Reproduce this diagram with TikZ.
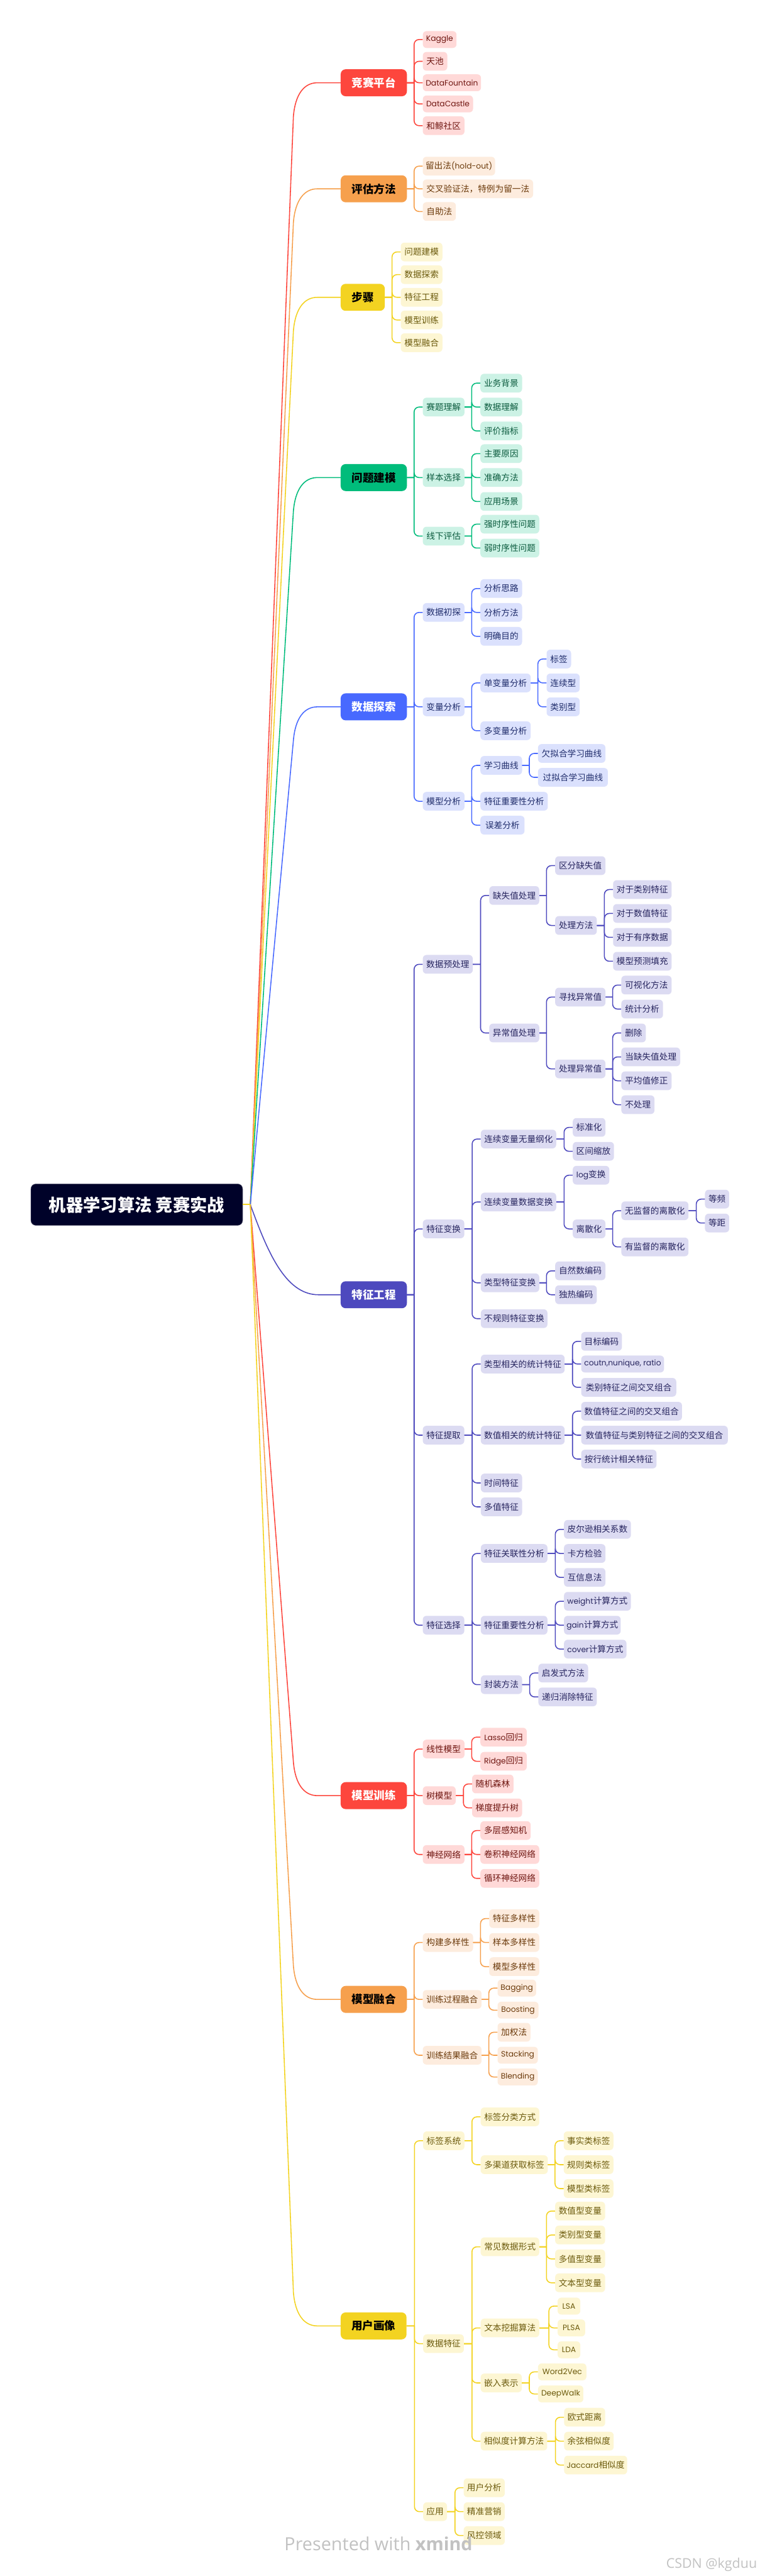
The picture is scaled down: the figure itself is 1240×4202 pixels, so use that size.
\documentclass[tikz,border=0pt]{standalone}
\usepackage{fontspec}
\setmainfont{Noto Sans CJK SC}
\newfontfamily\lt[Scale=0.9]{Poppins}
\newfontfamily\wm{Open Sans}
\usetikzlibrary{calc}
\definecolor{redln}{HTML}{FD463D}\definecolor{redbg}{HTML}{FFD9D8}\definecolor{redtx}{HTML}{6E1510}
\definecolor{orgln}{HTML}{F6A04D}\definecolor{orgbg}{HTML}{FDECDE}\definecolor{orgtx}{HTML}{6B3A0B}
\definecolor{yelln}{HTML}{F3D321}\definecolor{yelbg}{HTML}{FDF6D3}\definecolor{yeltx}{HTML}{6B5A0C}
\definecolor{grnln}{HTML}{00BC7B}\definecolor{grnbg}{HTML}{CCF2E5}\definecolor{grntx}{HTML}{0B5B3E}
\definecolor{bluln}{HTML}{4869FF}\definecolor{blubg}{HTML}{DBE1FD}\definecolor{blutx}{HTML}{1F2C6B}
\definecolor{indln}{HTML}{4D49BE}\definecolor{indbg}{HTML}{DCDBF2}\definecolor{indtx}{HTML}{27255F}
\definecolor{rootbg}{HTML}{000229}\definecolor{wmark}{HTML}{C2C2C2}
\tikzset{
  boxbase/.style={rounded corners=6pt,inner sep=0pt,align=center},
  leafbox/.style={boxbase,minimum height=30.5pt,font=\fontsize{14}{16}\selectfont},
  topbox/.style={boxbase,rounded corners=8pt,minimum height=44pt,font=\fontsize{18}{20}\selectfont\bfseries},
  short/.style={minimum height=27.5pt},
  redL/.style={leafbox,fill=redbg,text=redtx},
  orgL/.style={leafbox,fill=orgbg,text=orgtx},
  yelL/.style={leafbox,fill=yelbg,text=yeltx},
  grnL/.style={leafbox,fill=grnbg,text=grntx},
  bluL/.style={leafbox,fill=blubg,text=blutx},
  indL/.style={leafbox,fill=indbg,text=indtx},
  redT/.style={topbox,fill=redln,text=white},
  orgT/.style={topbox,fill=orgln,text=black},
  yelT/.style={topbox,fill=yelln,text=black},
  grnT/.style={topbox,fill=grnln,text=black},
  bluT/.style={topbox,fill=bluln,text=white},
  indT/.style={topbox,fill=indln,text=white},
  redC/.style={draw=redln,line width=1.6pt},
  orgC/.style={draw=orgln,line width=1.6pt},
  yelC/.style={draw=yelln,line width=1.6pt},
  grnC/.style={draw=grnln,line width=1.6pt},
  bluC/.style={draw=bluln,line width=1.6pt},
  indC/.style={draw=indln,line width=1.6pt},
  wmtext/.style={text=wmark,inner sep=0pt,anchor=west}
}
\newcommand\nd[6]{\node[#5,minimum width={(#3-#2)*1pt}] (#1) at ({(#2+#3)/2},{-(#4)}) {#6};}
\newcommand\links[3]{\foreach \kid in {#3}{%
  \draw[#1] (#2.east) -- ([xshift=-14pt]\kid.west |- #2.east)
    [rounded corners=8pt] ([xshift=-14pt]\kid.west |- #2.east) -- ([xshift=-14pt]\kid.west) -- (\kid.west);}}
\newcommand\upcurve[2]{\draw[#1] (hub) -- ([xshift=-77pt,yshift=-55pt]#2.west) .. controls ([xshift=-74pt,yshift=-18pt]#2.west) and ([xshift=-59pt]#2.west) .. ([xshift=-38pt]#2.west) -- (#2.west);}
\newcommand\downcurve[2]{\draw[#1] (hub) -- ([xshift=-77pt,yshift=55pt]#2.west) .. controls ([xshift=-74pt,yshift=18pt]#2.west) and ([xshift=-59pt]#2.west) .. ([xshift=-38pt]#2.west) -- (#2.west);}
\begin{document}
\begin{tikzpicture}[x=1pt,y=1pt]
\fill[white] (0,0) rectangle (1240,-4202);
\useasboundingbox (0,0) rectangle (1240,-4202);
\node[fill=rootbg,draw=rootbg!70!white,line width=.6pt,rounded corners=8pt,text=white,inner sep=0pt,minimum width=345.5pt,minimum height=67.5pt,font=\fontsize{28}{30}\selectfont\bfseries] (root) at (223.2,-1965) {机器学习算法 竞赛实战};
\coordinate (hub) at (408.5,-1965);
% red 1
\nd{a}{556}{664}{135}{redT}{竞赛平台}
\nd{a1}{690}{745}{64.5}{redL,short}{\lt Kaggle}
\nd{a2}{690}{730}{100}{redL}{天池}
\nd{a3}{690}{785}{135}{redL,short}{\lt DataFountain}
\nd{a4}{690}{772}{169.5}{redL,short}{\lt DataCastle}
\nd{a5}{690}{758}{205}{redL}{和鲸社区}
\links{redC}{a}{a1,a2,a3,a4,a5}
% orange 1
\nd{b}{556}{664}{308}{orgT}{评估方法}
\nd{b1}{690}{808}{271}{orgL}{留出法{\lt (hold-out)}}
\nd{b2}{690}{870}{308}{orgL}{交叉验证法，特例为留一法}
\nd{b3}{690}{744}{345}{orgL}{自助法}
\links{orgC}{b}{b1,b2,b3}
% yellow 1
\nd{c}{556}{628}{485}{yelT}{步骤}
\nd{c1}{654}{722}{411}{yelL}{问题建模}
\nd{c2}{654}{722}{448}{yelL}{数据探索}
\nd{c3}{654}{722}{485}{yelL}{特征工程}
\nd{c4}{654}{722}{522}{yelL}{模型训练}
\nd{c5}{654}{722}{559}{yelL}{模型融合}
\links{yelC}{c}{c1,c2,c3,c4,c5}
% green
\nd{d}{556}{664}{779}{grnT}{问题建模}
\nd{d1}{690}{758}{664}{grnL}{赛题理解}
\nd{d2}{690}{758}{779}{grnL}{样本选择}
\nd{d3}{690}{758}{874.5}{grnL}{线下评估}
\nd{d11}{784}{852}{625}{grnL}{业务背景}
\nd{d12}{784}{852}{664}{grnL}{数据理解}
\nd{d13}{784}{852}{703}{grnL}{评价指标}
\nd{d21}{784}{852}{740}{grnL}{主要原因}
\nd{d22}{784}{852}{779}{grnL}{准确方法}
\nd{d23}{784}{852}{818}{grnL}{应用场景}
\nd{d31}{784}{880}{855}{grnL}{强时序性问题}
\nd{d32}{784}{880}{894}{grnL}{弱时序性问题}
\links{grnC}{d}{d1,d2,d3}
\links{grnC}{d1}{d11,d12,d13}
\links{grnC}{d2}{d21,d22,d23}
\links{grnC}{d3}{d31,d32}
% blue
\nd{e}{556}{664}{1153}{bluT}{数据探索}
\nd{e1}{690}{758}{999}{bluL}{数据初探}
\nd{e2}{690}{758}{1153}{bluL}{变量分析}
\nd{e3}{690}{758}{1307}{bluL}{模型分析}
\nd{e11}{784}{852}{960}{bluL}{分析思路}
\nd{e12}{784}{852}{999}{bluL}{分析方法}
\nd{e13}{784}{852}{1038}{bluL}{明确目的}
\nd{e21}{784}{866}{1114}{bluL}{单变量分析}
\nd{e22}{784}{866}{1192}{bluL}{多变量分析}
\nd{e211}{892}{932}{1075}{bluL}{标签}
\nd{e212}{892}{946}{1114}{bluL}{连续型}
\nd{e213}{892}{946}{1153}{bluL}{类别型}
\nd{e31}{784}{852}{1248.5}{bluL}{学习曲线}
\nd{e32}{784}{894}{1307}{bluL}{特征重要性分析}
\nd{e33}{784}{856}{1346}{bluL}{误差分析}
\nd{e311}{878}{988}{1229}{bluL}{欠拟合学习曲线}
\nd{e312}{878}{992}{1268}{bluL}{过拟合学习曲线}
\links{bluC}{e}{e1,e2,e3}
\links{bluC}{e1}{e11,e12,e13}
\links{bluC}{e2}{e21,e22}
\links{bluC}{e21}{e211,e212,e213}
\links{bluC}{e3}{e31,e32,e33}
\links{bluC}{e31}{e311,e312}
% indigo
\nd{f}{556}{664}{2112}{indT}{特征工程}
\nd{f1}{690}{771.5}{1573}{indL}{数据预处理}
\nd{f2}{690}{757.7}{2004.6}{indL}{特征变换}
\nd{f3}{690}{757.7}{2341}{indL}{特征提取}
\nd{f4}{690}{757.7}{2651}{indL}{特征选择}
\nd{f11}{798.5}{880}{1460.7}{indL}{缺失值处理}
\nd{f12}{798.5}{880}{1685}{indL}{异常值处理}
\nd{f111}{906}{988}{1412}{indL}{区分缺失值}
\nd{f112}{906}{974}{1509.6}{indL}{处理方法}
\nd{f1121}{1000.5}{1096}{1451}{indL}{对于类别特征}
\nd{f1122}{1000.5}{1096}{1490}{indL}{对于数值特征}
\nd{f1123}{1000.5}{1096}{1529}{indL}{对于有序数据}
\nd{f1124}{1000.5}{1096}{1568}{indL}{模型预测填充}
\nd{f121}{906}{988}{1626.4}{indL}{寻找异常值}
\nd{f122}{906}{988}{1743.6}{indL}{处理异常值}
\nd{f1211}{1014}{1096}{1606.8}{indL}{可视化方法}
\nd{f1212}{1014}{1082}{1646}{indL}{统计分析}
\nd{f1221}{1014}{1054}{1685}{indL}{删除}
\nd{f1222}{1014}{1110}{1724}{indL}{当缺失值处理}
\nd{f1223}{1014}{1096}{1763}{indL}{平均值修正}
\nd{f1224}{1014}{1068}{1802}{indL}{不处理}
\nd{f21}{784.7}{907.7}{1858}{indL}{连续变量无量纲化}
\nd{f22}{784.7}{907.7}{1960.7}{indL}{连续变量数据变换}
\nd{f23}{784.7}{880}{2092.5}{indL}{类型特征变换}
\nd{f24}{784.7}{893.4}{2151}{indL}{不规则特征变换}
\nd{f211}{934.7}{988}{1839}{indL}{标准化}
\nd{f212}{934.7}{1002}{1878}{indL}{区间缩放}
\nd{f221}{934.7}{994.4}{1917}{indL}{{\lt log}变换}
\nd{f222}{934.7}{988}{2004.6}{indL}{离散化}
\nd{f2221}{1014}{1123.5}{1975}{indL}{无监督的离散化}
\nd{f2222}{1014}{1123.5}{2034}{indL}{有监督的离散化}
\nd{f22211}{1150.5}{1190}{1956}{indL}{等频}
\nd{f22212}{1150.5}{1190}{1995}{indL}{等距}
\nd{f231}{906}{988}{2073}{indL}{自然数编码}
\nd{f232}{906}{974}{2112}{indL}{独热编码}
\nd{f31}{784.7}{921.4}{2225}{indL}{类型相关的统计特征}
\nd{f32}{784.7}{921.4}{2341}{indL}{数值相关的统计特征}
\nd{f33}{784.7}{852}{2419}{indL}{时间特征}
\nd{f34}{784.7}{852}{2458}{indL}{多值特征}
\nd{f311}{948.5}{1015}{2188}{indL}{目标编码}
\nd{f312}{948.5}{1083.7}{2225}{indL,short}{\lt coutn,nunique, ratio}
\nd{f313}{948.5}{1103.6}{2263}{indL}{类别特征之间交叉组合}
\nd{f321}{948.5}{1113}{2302}{indL}{数值特征之间的交叉组合}
\nd{f322}{948.5}{1187.7}{2341}{indL}{数值特征与类别特征之间的交叉组合}
\nd{f323}{948.5}{1071.4}{2380}{indL}{按行统计相关特征}
\nd{f41}{784.7}{893.4}{2534}{indL}{特征关联性分析}
\nd{f42}{784.7}{893.4}{2651}{indL}{特征重要性分析}
\nd{f43}{784.7}{852}{2748}{indL}{封装方法}
\nd{f411}{920.4}{1029.6}{2494.7}{indL}{皮尔逊相关系数}
\nd{f412}{920.4}{988}{2534}{indL}{卡方检验}
\nd{f413}{920.4}{988}{2573}{indL}{互信息法}
\nd{f421}{920.4}{1029.6}{2612}{indL}{{\lt weight}计算方式}
\nd{f422}{920.4}{1013}{2651}{indL}{{\lt gain}计算方式}
\nd{f423}{920.4}{1022.4}{2690}{indL}{{\lt cover}计算方式}
\nd{f431}{878.6}{959.7}{2729}{indL}{启发式方法}
\nd{f432}{878.6}{974}{2768}{indL}{递归消除特征}
\links{indC}{f}{f1,f2,f3,f4}
\links{indC}{f1}{f11,f12}
\links{indC}{f11}{f111,f112}
\links{indC}{f112}{f1121,f1122,f1123,f1124}
\links{indC}{f12}{f121,f122}
\links{indC}{f121}{f1211,f1212}
\links{indC}{f122}{f1221,f1222,f1223,f1224}
\links{indC}{f2}{f21,f22,f23,f24}
\links{indC}{f21}{f211,f212}
\links{indC}{f22}{f221,f222}
\links{indC}{f222}{f2221,f2222}
\links{indC}{f2221}{f22211,f22212}
\links{indC}{f23}{f231,f232}
\links{indC}{f3}{f31,f32,f33,f34}
\links{indC}{f31}{f311,f312,f313}
\links{indC}{f32}{f321,f322,f323}
\links{indC}{f4}{f41,f42,f43}
\links{indC}{f41}{f411,f412,f413}
\links{indC}{f42}{f421,f422,f423}
\links{indC}{f43}{f431,f432}
% red 2
\nd{g}{556}{664}{2929}{redT}{模型训练}
\nd{g1}{690}{758}{2853}{redL}{线性模型}
\nd{g2}{690}{743.7}{2929}{redL}{树模型}
\nd{g3}{690}{758}{3025}{redL}{神经网络}
\nd{g11}{784}{859.6}{2833.6}{redL}{{\lt Lasso}回归}
\nd{g12}{784}{859.6}{2873}{redL}{{\lt Ridge}回归}
\nd{g21}{770.5}{838}{2910}{redL}{随机森林}
\nd{g22}{770.5}{852}{2949}{redL}{梯度提升树}
\nd{g31}{784}{866}{2986}{redL}{多层感知机}
\nd{g32}{784}{880}{3025}{redL}{卷积神经网络}
\nd{g33}{784}{880}{3064}{redL}{循环神经网络}
\links{redC}{g}{g1,g2,g3}
\links{redC}{g1}{g11,g12}
\links{redC}{g2}{g21,g22}
\links{redC}{g3}{g31,g32,g33}
% orange 2
\nd{h}{556}{664}{3261.4}{orgT}{模型融合}
\nd{h1}{690}{772}{3168.6}{orgL}{构建多样性}
\nd{h2}{690}{785.8}{3261.4}{orgL}{训练过程融合}
\nd{h3}{690}{785.8}{3352.5}{orgL}{训练结果融合}
\nd{h11}{798.4}{880}{3129.6}{orgL}{特征多样性}
\nd{h12}{798.4}{880}{3168.6}{orgL}{样本多样性}
\nd{h13}{798.4}{880}{3208}{orgL}{模型多样性}
\nd{h21}{812}{875}{3243}{orgL,short}{\lt Bagging}
\nd{h22}{812}{878.8}{3279}{orgL,short}{\lt Boosting}
\nd{h31}{812}{865.7}{3315}{orgL}{加权法}
\nd{h32}{812}{877.7}{3352.5}{orgL,short}{\lt Stacking}
\nd{h33}{812}{877.7}{3388}{orgL,short}{\lt Blending}
\links{orgC}{h}{h1,h2,h3}
\links{orgC}{h1}{h11,h12,h13}
\links{orgC}{h2}{h21,h22}
\links{orgC}{h3}{h31,h32,h33}
% yellow 2
\nd{i}{556}{663.4}{3794}{yelT}{用户画像}
\nd{i1}{690.6}{758}{3492}{yelL}{标签系统}
\nd{i2}{690.6}{757}{3823}{yelL}{数据特征}
\nd{i3}{690.6}{729.4}{4097}{yelL}{应用}
\nd{i11}{784.4}{880}{3453}{yelL}{标签分类方式}
\nd{i12}{784.4}{894}{3531}{yelL}{多渠道获取标签}
\nd{i121}{920}{1001}{3492}{yelL}{事实类标签}
\nd{i122}{920}{1001}{3531}{yelL}{规则类标签}
\nd{i123}{920}{1001}{3570}{yelL}{模型类标签}
\nd{i21}{784.4}{880}{3665}{yelL}{常见数据形式}
\nd{i22}{784.4}{880}{3797.3}{yelL}{文本挖掘算法}
\nd{i23}{784.4}{851.5}{3887}{yelL}{嵌入表示}
\nd{i24}{784.4}{893}{3982}{yelL}{相似度计算方法}
\nd{i211}{906}{987.5}{3606.7}{yelL}{数值型变量}
\nd{i212}{906}{987.5}{3645.7}{yelL}{类别型变量}
\nd{i213}{906}{987.5}{3684.7}{yelL}{多值型变量}
\nd{i214}{906}{987.5}{3723.7}{yelL}{文本型变量}
\nd{i221}{910}{947}{3761.7}{yelL,short}{\lt LSA}
\nd{i222}{910}{955}{3797.3}{yelL,short}{\lt PLSA}
\nd{i223}{910}{947}{3833}{yelL,short}{\lt LDA}
\nd{i231}{878}{957}{3869}{yelL,short}{\lt Word2Vec}
\nd{i232}{878}{952}{3905}{yelL,short}{\lt DeepWalk}
\nd{i241}{920.6}{987.6}{3943}{yelL}{欧式距离}
\nd{i242}{920.6}{1001.5}{3982}{yelL}{余弦相似度}
\nd{i243}{920.6}{1023.5}{4021}{yelL}{{\lt Jaccard}相似度}
\nd{i31}{756.7}{823.7}{4058}{yelL}{用户分析}
\nd{i32}{756.7}{823.7}{4097}{yelL}{精准营销}
\nd{i33}{756.7}{823.7}{4136}{yelL}{风控领域}
\links{yelC}{i}{i1,i2,i3}
\links{yelC}{i1}{i11,i12}
\links{yelC}{i12}{i121,i122,i123}
\links{yelC}{i2}{i21,i22,i23,i24}
\links{yelC}{i21}{i211,i212,i213,i214}
\links{yelC}{i22}{i221,i222,i223}
\links{yelC}{i23}{i231,i232}
\links{yelC}{i24}{i241,i242,i243}
\links{yelC}{i3}{i31,i32,i33}
% main branches
\upcurve{redC}{a}
\upcurve{orgC}{b}
\upcurve{yelC}{c}
\upcurve{grnC}{d}
\upcurve{bluC}{e}
\draw[indC] (hub) .. controls (436,-2040) and (465,-2112) .. ([xshift=-36pt]f.west) -- (f.west);
\downcurve{redC}{g}
\downcurve{orgC}{h}
\downcurve{yelC}{i}
\draw[yelC,line width=2pt] (root.east) -- (hub);
% watermarks
\node[wmtext,font=\fontsize{29.5}{31}\selectfont\wm] (wm1) at (464,-4149) {Presented with {\bfseries xmind}};
\node[wmtext,font=\fontsize{22}{24}\selectfont\wm] (wm2) at (1087,-4183) {CSDN @kgduu};
\end{tikzpicture}
\end{document}
